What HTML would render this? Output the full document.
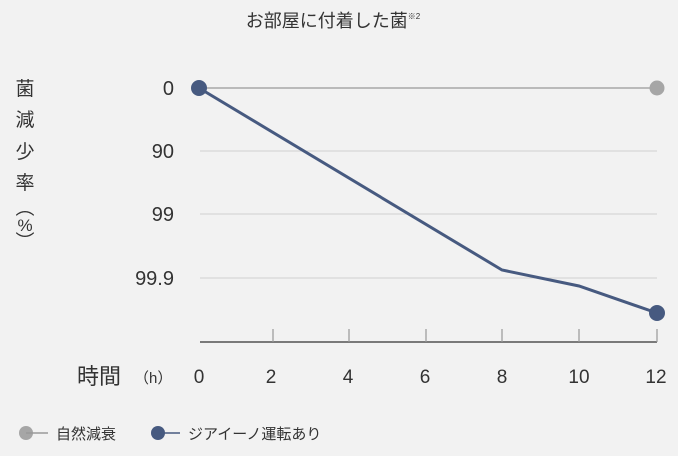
<!DOCTYPE html>
<html><head><meta charset="utf-8"><style>
body{margin:0;background:#f2f2f2;}
svg{display:block;font-family:"Liberation Sans","Noto Sans CJK JP",sans-serif;}
</style></head><body>
<svg width="678" height="456" viewBox="0 0 678 456">
<rect width="678" height="456" fill="#f2f2f2"/>
<text x="333" y="27" font-size="18" fill="#333" text-anchor="middle">お部屋に付着した菌<tspan font-size="8" dy="-8">※2</tspan></text>
<g font-size="19" fill="#333" text-anchor="middle">
<text x="25" y="95">菌</text><text x="25" y="126">減</text><text x="25" y="158">少</text><text x="25" y="189">率</text>
<text x="25" y="214" font-family="Noto Sans CJK JP,sans-serif">︵</text>
<text x="25" y="231" font-size="17">%</text>
<text x="25" y="248" font-family="Noto Sans CJK JP,sans-serif">︶</text>
</g>
<g stroke="#d0d0d0" stroke-width="1">
<line x1="200" y1="151" x2="657" y2="151"/><line x1="200" y1="214" x2="657" y2="214"/><line x1="200" y1="278" x2="657" y2="278"/>
</g>
<line x1="200" y1="88" x2="657" y2="88" stroke="#999" stroke-width="1.2"/>
<line x1="200" y1="342" x2="657" y2="342" stroke="#333" stroke-width="1.2"/>
<g stroke="#999" stroke-width="1.2">
<line x1="273" y1="329" x2="273" y2="342"/><line x1="349" y1="329" x2="349" y2="342"/><line x1="426" y1="329" x2="426" y2="342"/><line x1="502" y1="329" x2="502" y2="342"/><line x1="579" y1="329" x2="579" y2="342"/><line x1="657" y1="329" x2="657" y2="342"/>
</g>
<g font-size="20" fill="#333" text-anchor="end">
<text x="174" y="95">0</text><text x="174" y="158">90</text><text x="174" y="221">99</text><text x="174" y="285">99.9</text>
</g>
<g font-size="19" fill="#333" text-anchor="middle">
<text x="199" y="383">0</text><text x="271" y="383">2</text><text x="348" y="383">4</text><text x="425" y="383">6</text><text x="502" y="383">8</text><text x="579" y="383">10</text><text x="656" y="383">12</text>
</g>
<text x="77" y="384" font-size="22" fill="#333">時間</text>
<text x="134" y="383" font-size="15" fill="#333">（h）</text>
<circle cx="657" cy="88" r="7.5" fill="#a6a6a6"/>
<polyline points="199,88 502,270 579,286 657,313" fill="none" stroke="#475a80" stroke-width="3"/>
<circle cx="199" cy="88" r="8" fill="#475a80"/>
<circle cx="657" cy="313" r="8" fill="#475a80"/>
<circle cx="26" cy="433" r="7" fill="#a6a6a6"/><line x1="26" y1="433" x2="48" y2="433" stroke="#999" stroke-width="1.5"/>
<text x="56" y="439" font-size="15" fill="#333">自然減衰</text>
<circle cx="158" cy="433" r="7" fill="#475a80"/><line x1="158" y1="433" x2="180" y2="433" stroke="#475a80" stroke-width="1.5"/>
<text x="188" y="439" font-size="15" fill="#333">ジアイーノ運転あり</text>
</svg>
</body></html>
